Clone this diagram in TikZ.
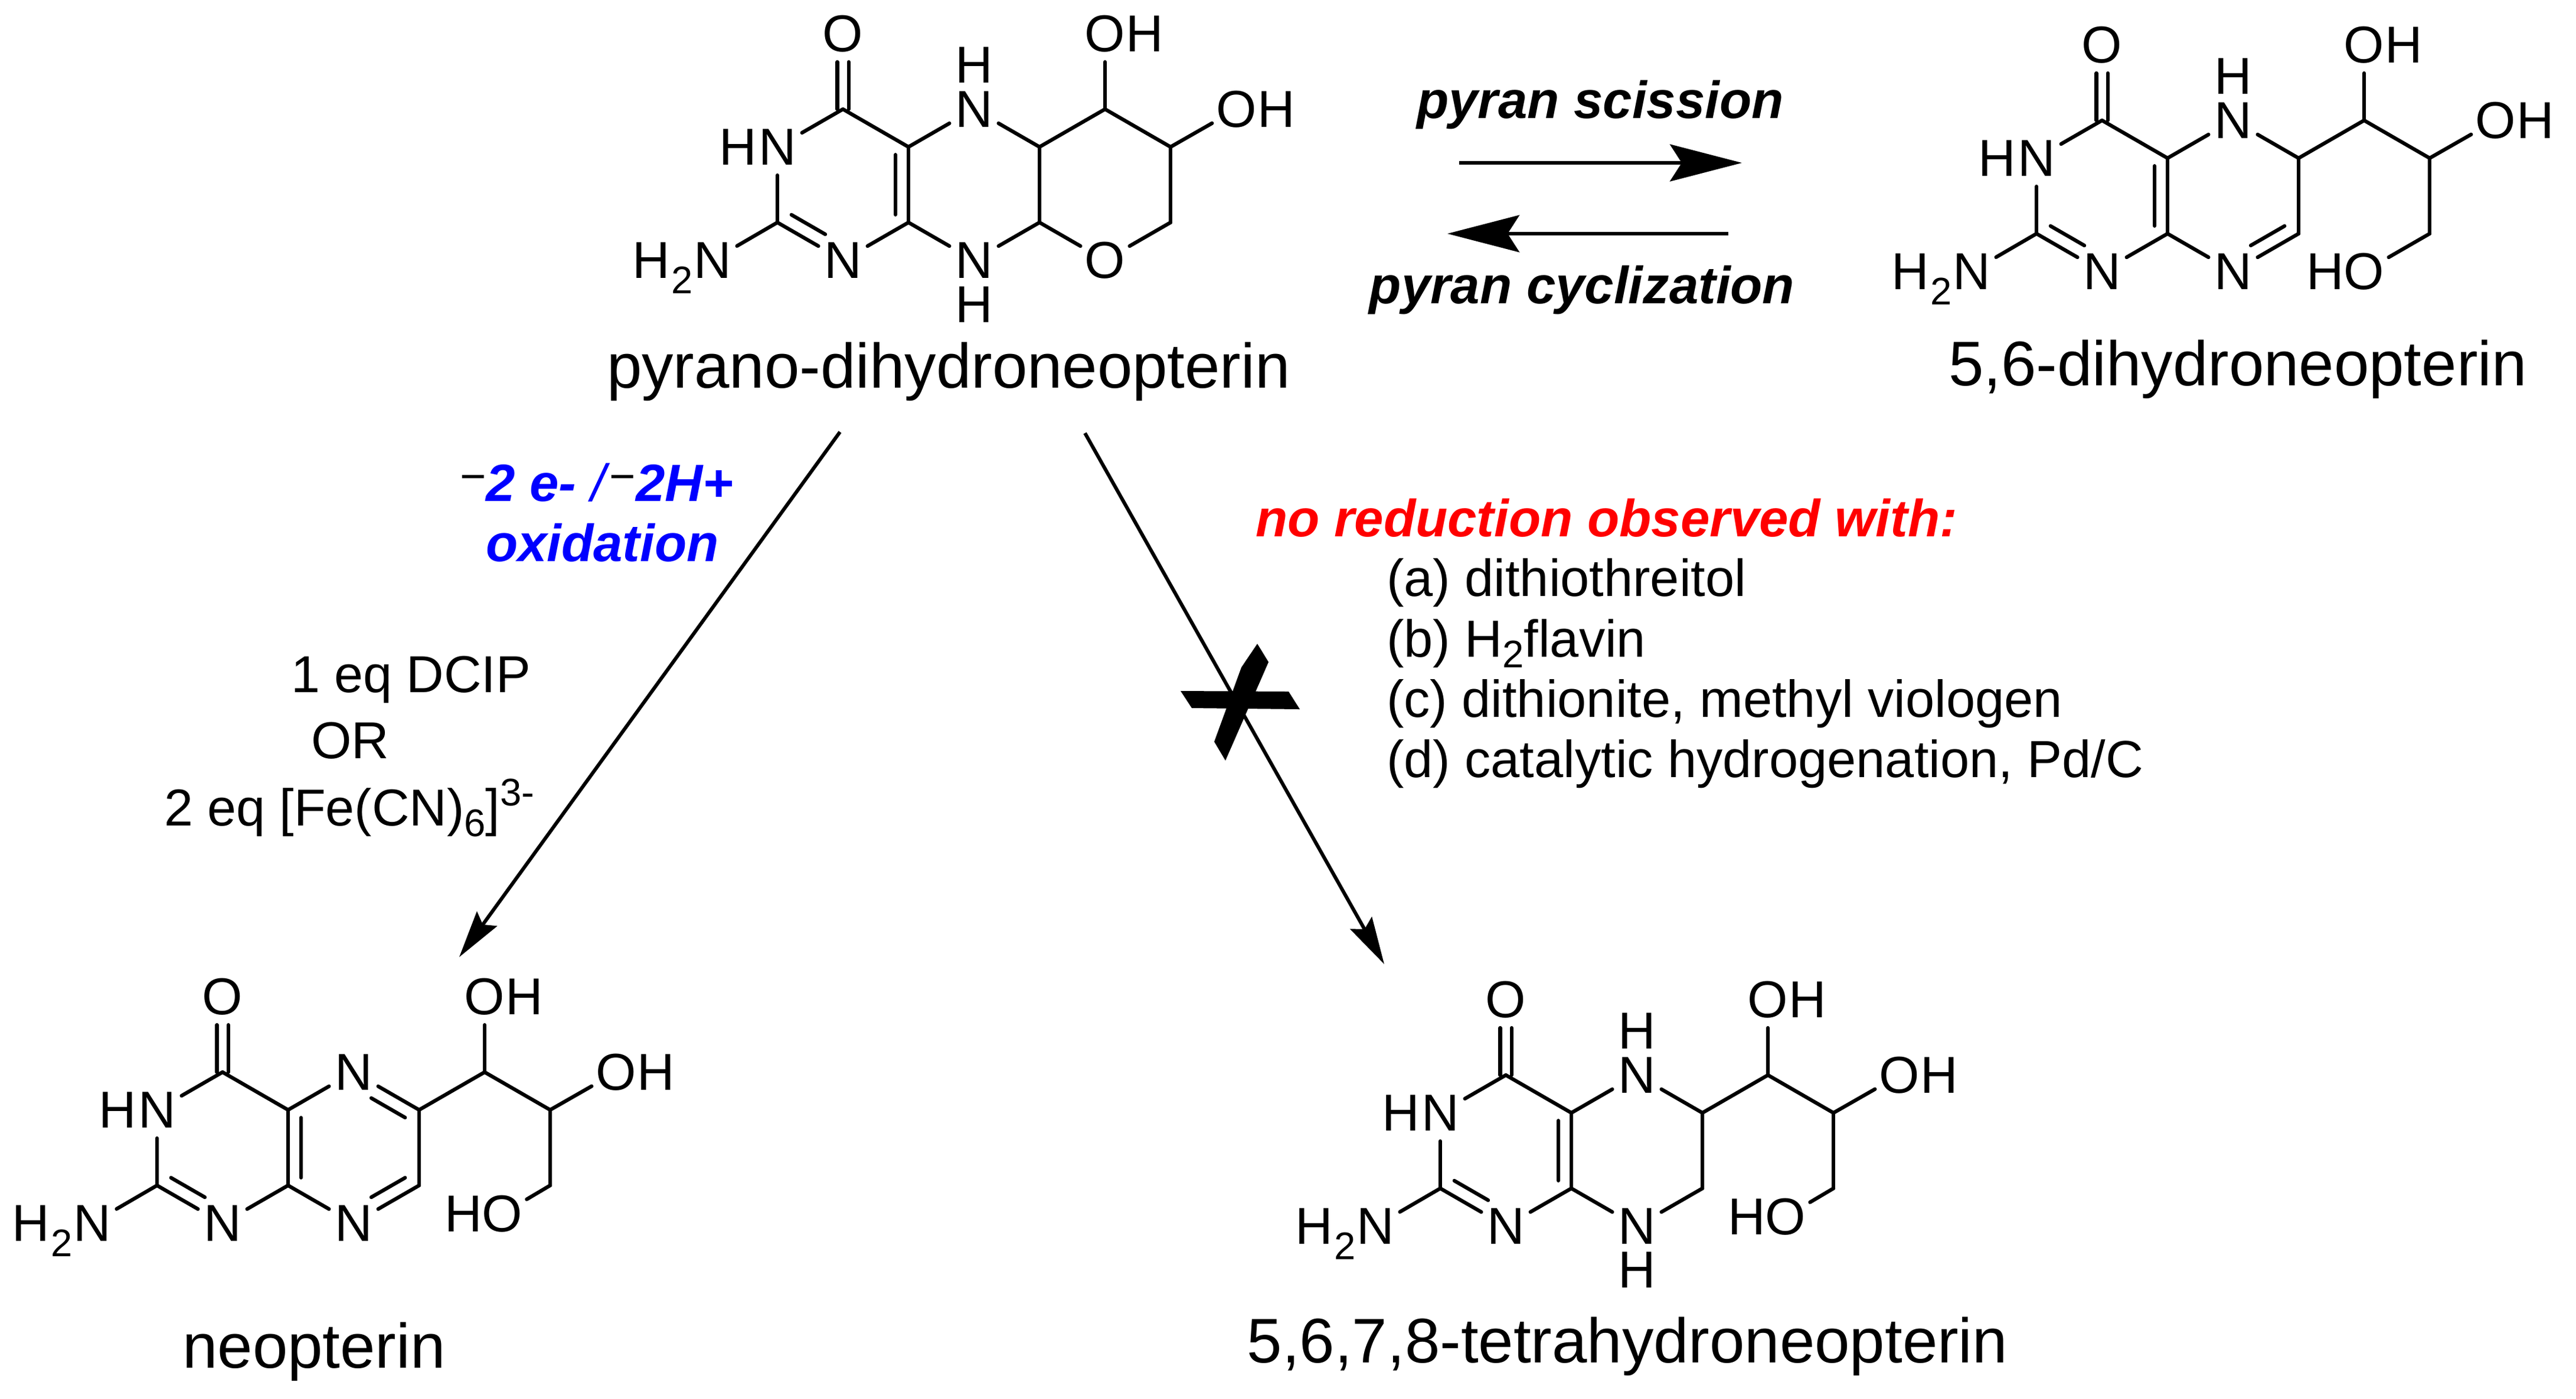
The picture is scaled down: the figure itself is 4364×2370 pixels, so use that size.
\documentclass[tikz,border=0pt]{standalone}
\usepackage{fontspec}
\setmainfont[Ligatures=NoCommon]{Liberation Sans}
\usetikzlibrary{arrows.meta,calc}
\newcommand\subsc[1]{\raisebox{-4.5pt}{\fontsize{16.3}{16}\selectfont #1}}
\newcommand\supsc[1]{\raisebox{8.5pt}{\fontsize{16.3}{16}\selectfont #1}}
\newcommand\mnus{{\normalfont\fontsize{19}{19}\selectfont\raisebox{4pt}{\textcolor{black}{−}}}}
\tikzset{
  bond/.style={line width=1.55pt,line cap=round,black},
  atomlab/.style={circle,minimum size=24pt,inner sep=0pt,outer sep=0pt,font=\fontsize{22}{26}\selectfont},
  hlab/.style={inner sep=0pt,outer sep=0pt,font=\fontsize{22}{26}\selectfont},
  sublab/.style={inner sep=0pt,outer sep=0pt,font=\fontsize{16.3}{16}\selectfont},
  txt/.style={anchor=base west,inner sep=0pt,outer sep=0pt,font=\fontsize{22}{26}\selectfont},
  condtxt/.style={anchor=base west,inner sep=0pt,outer sep=0pt,font=\fontsize{22.1}{26}\selectfont},
  boldit/.style={anchor=base west,inner sep=0pt,outer sep=0pt,font=\fontsize{22.2}{26}\selectfont\bfseries\itshape},
  emph/.style={anchor=base,inner sep=0pt,outer sep=0pt,font=\fontsize{22.2}{26}\selectfont\bfseries\itshape},
  title/.style={anchor=base,inner sep=0pt,outer sep=0pt,font=\fontsize{26.7}{30}\selectfont},
  bigarrow/.style={line width=1.4pt,-{Stealth[length=30.5pt,width=15.7pt,inset=5pt]}},
  diagarrow/.style={line width=1.5pt,-{Stealth[length=20pt,width=10.5pt,inset=3pt]}},
  dbl/.style={bond,transform canvas={xshift=#1}},
  innerup/.style={bond,shorten <=3.5pt,transform canvas={xshift=#1*2.9pt,yshift=5pt}},
  innerdown/.style={bond,shorten <=3.5pt,transform canvas={xshift=#1*2.9pt,yshift=-5pt}},
  innerv/.style={bond,shorten <=3.3pt,shorten >=3.3pt,transform canvas={xshift=#1}},
}
% pterin core, shared by the four structures; #1 = shift of the inner C=C line
\newcommand\ptcore[1]{%
  \coordinate (C4) at (-111,-64);
  \coordinate (C4a) at (0,0);
  \coordinate (C8a) at (0,128);
  \coordinate (C2) at (-222,128);
  \coordinate (C6) at (222,0);
  \coordinate (C7) at (222,128);
  \coordinate (C1p) at (333,-64);
  \coordinate (C2p) at (444,0);
  \coordinate (C3p) at (444,128);
  \node[atomlab] (N3) at (-222,0) {N};
  \node[hlab] (H3) at (-289,0) {H};
  \node[atomlab] (N1) at (-111,192) {N};
  \node[atomlab] (N5) at (111,-64) {N};
  \node[atomlab] (N8) at (111,192) {N};
  \node[atomlab] (O4) at (-111,-192) {O};
  \node[atomlab] (N2) at (-332,192) {N};
  \node[sublab] (two) at (-383,226) {2};
  \node[hlab] (H2) at (-436,192) {H};
  \node[atomlab] (O1) at (333,-192) {O};
  \node[hlab] (H1) at (400,-192) {H};
  \node[atomlab] (O2) at (556,-64) {O};
  \node[hlab] (H2p) at (623,-64) {H};
  \draw[bond] (C4) -- (N3);
  \draw[bond] (C2) -- (N3);
  \draw[bond] (C2) -- (N2);
  \draw[bond] (C2) -- (N1);
  \draw[innerup=1] (C2) -- (N1);
  \draw[bond] (C8a) -- (N1);
  \draw[bond] (C4a) -- (C8a);
  \draw[innerv=#1] (C4a) -- (C8a);
  \draw[bond] (C4) -- (C4a);
  \draw[dbl=-2.4pt] (C4) -- (O4);
  \draw[dbl=2.4pt] (C4) -- (O4);
  \draw[bond] (C4a) -- (N5);
  \draw[bond] (C8a) -- (N8);
  \draw[bond] (C6) -- (C1p);
  \draw[bond] (C1p) -- (C2p);
  \draw[bond] (C1p) -- (O1);
  \draw[bond] (C2p) -- (O2);
  \draw[bond] (C2p) -- (C3p);
  \draw[bond] (C6) -- (C7);
}
\begin{document}
\begin{tikzpicture}[x=0.25pt,y=-0.25pt]
\useasboundingbox (0,0) rectangle (4364,2370);

% pyrano-dihydroneopterin
\begin{scope}[shift={(1539,249)},name prefix=pyr-]
  \ptcore{-5.5pt}
  \node[hlab] (H5) at (111,-139) {H};
  \node[hlab] (H8) at (111,267) {H};
  \node[atomlab] (Or) at (333,192) {O};
  \draw[bond] (N5) -- (C6);
  \draw[bond] (N8) -- (C7);
  \draw[bond] (C7) -- (Or);
  \draw[bond] (Or) -- (C3p);
\end{scope}

% 5,6-dihydroneopterin
\begin{scope}[shift={(3672,268)},name prefix=dih-]
  \ptcore{-5.5pt}
  \node[hlab] (H5) at (111,-139) {H};
  \node[atomlab] (Oh) at (333,192) {O};
  \node[hlab] (Hh) at (267,192) {H};
  \draw[bond] (N5) -- (C6);
  \draw[bond] (C7) -- (N8);
  \draw[innerup=-1] (C7) -- (N8);
  \draw[bond] (C3p) -- (Oh);
\end{scope}

% neopterin
\begin{scope}[shift={(488,1881)},name prefix=neo-]
  \ptcore{5.5pt}
  \node[atomlab] (Oh) at (363,176) {O};
  \node[hlab] (Hh) at (297,176) {H};
  \draw[bond] (C6) -- (N5);
  \draw[innerdown=-1] (C6) -- (N5);
  \draw[bond] (C7) -- (N8);
  \draw[innerup=-1] (C7) -- (N8);
  \draw[bond] (C3p) -- (Oh);
\end{scope}

% 5,6,7,8-tetrahydroneopterin
\begin{scope}[shift={(2662,1886)},name prefix=tet-]
  \ptcore{-5.5pt}
  \node[hlab] (H5) at (111,-139) {H};
  \node[hlab] (H8) at (111,266) {H};
  \node[atomlab] (Oh) at (363,176) {O};
  \node[hlab] (Hh) at (297,176) {H};
  \draw[bond] (N5) -- (C6);
  \draw[bond] (N8) -- (C7);
  \draw[bond] (C3p) -- (Oh);
\end{scope}

% structure names
\node[title] (tpyr) at (1607,657) {pyrano-dihydroneopterin};
\node[title] (tdih) at (3791,653) {5,6-dihydroneopterin};
\node[title] (tneo) at (532,2318) {neopterin};
\node[title] (ttet) at (2757,2309) {5,6,7,8-tetrahydroneopterin};

% equilibrium arrows
\node[emph] (lsci) at (2711,200) {pyran scission};
\node[emph] (lcyc) at (2680,514) {pyran cyclization};
\coordinate (ar1a) at (2472,276);
\coordinate (ar1b) at (2951,276);
\coordinate (ar2a) at (2928,396);
\coordinate (ar2b) at (2452,396);
\draw[bigarrow] (ar1a) -- (ar1b);
\draw[bigarrow] (ar2a) -- (ar2b);

% oxidation
\coordinate (oxa) at (1423,732);
\coordinate (oxb) at (778,1622);
\draw[diagarrow] (oxa) -- (oxb);
\node[boldit,text=blue] (lox1) at (779,849) {\mnus{}2 e- {\mdseries /}\kern1.75pt\mnus{}2H+};
\node[boldit,text=blue] (lox2) at (823,951) {oxidation};
\node[txt] (r1) at (493,1173) {1 eq DCIP};
\node[txt] (r2) at (527,1285) {OR};
\node[txt] (r3) at (278,1399) {2 eq [Fe(CN)\subsc{6}]\supsc{3-}};

% blocked reduction
\coordinate (rda) at (1838,734);
\coordinate (rdb) at (2345,1634);
\draw[diagarrow] (rda) -- (rdb);
\fill[black] (2000,1171) -- (2183,1172) -- (2202,1202) -- (2019,1200) -- cycle;
\fill[black] (2130,1091) -- (2149,1122) -- (2076,1289) -- (2057,1257) -- (2103,1131) -- cycle;
\node[boldit,text=red] (lno) at (2127,909) {no reduction observed with:};
\node[condtxt] (ca) at (2349,1010) {(a) dithiothreitol};
\node[condtxt] (cb) at (2349,1113) {(b) H\subsc{2}flavin};
\node[condtxt] (cc) at (2349,1215) {(c) dithionite, methyl viologen};
\node[condtxt] (cd) at (2349,1317) {(d) catalytic hydrogenation, Pd/C};
\end{tikzpicture}
\end{document}
